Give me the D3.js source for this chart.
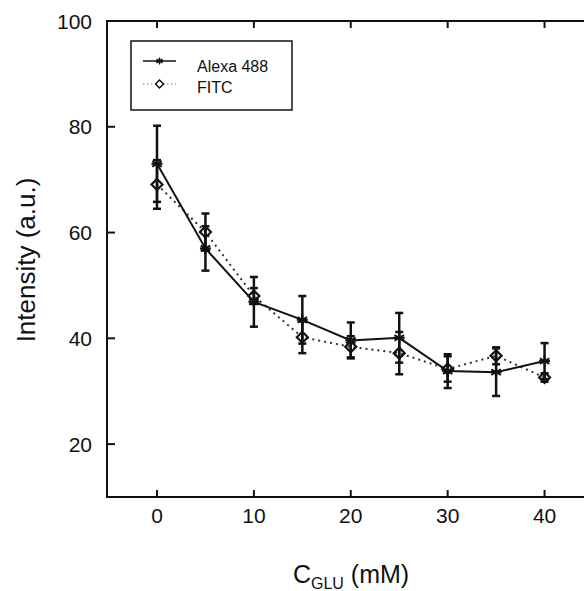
<!DOCTYPE html>
<html>
<head>
  <meta charset="utf-8">
  <script src="https://d3js.org/d3.v7.min.js"></script>
  <style>
    body { margin: 0; background: #fff; }
    text { font-family: "Liberation Sans", Arial, sans-serif; fill: #111; }
  </style>
</head>
<body>
<script>
  // Glucose concentration (mM) and measured intensities
  var conc      = [0, 5, 10, 15, 20, 25, 30, 35, 40];
  var alexa     = [73.0, 57.0, 46.9, 43.5, 39.6, 40.1, 33.8, 33.6, 35.7];
  var alexaErr  = [7.2, 4.2, 4.7, 4.5, 3.4, 4.7, 3.2, 4.5, 3.4];
  var fitc      = [69.1, 60.1, 48.0, 40.2, 38.4, 37.2, 34.2, 36.7, 32.6];
  var fitcErr   = [4.6, 3.5, 1.5, 3.0, 2.0, 4.0, 2.4, 1.6, 0.8];
  var xTicks    = [0, 10, 20, 30, 40];
  var yTicks    = [20, 40, 60, 80, 100];
  var seriesNames = ["Alexa 488", "FITC"];

  var W = 584, H = 591;
  var svg = d3.select("body").append("svg")
      .attr("width", W).attr("height", H);

  // plot box
  var plotLeft = 107, plotTop = 21, plotBottom = 497;
  var x = d3.scaleLinear().domain([-5.16, 45]).range([plotLeft, 593]);
  var y = d3.scaleLinear().domain([10, 100]).range([plotBottom, plotTop]);

  var g = svg.append("g");

  // frame: left, bottom, top (right side is cut off)
  g.append("path")
    .attr("d", "M" + W + "," + plotTop + "H" + plotLeft + "V" + plotBottom + "H" + W)
    .attr("fill", "none").attr("stroke", "#111").attr("stroke-width", 2);

  // ticks pointing inward
  xTicks.forEach(function(t) {
    g.append("line").attr("x1", x(t)).attr("x2", x(t))
      .attr("y1", plotBottom).attr("y2", plotBottom - 7)
      .attr("stroke", "#111").attr("stroke-width", 2);
    g.append("line").attr("x1", x(t)).attr("x2", x(t))
      .attr("y1", plotTop).attr("y2", plotTop + 7)
      .attr("stroke", "#111").attr("stroke-width", 2);
    g.append("text").attr("x", x(t)).attr("y", 523)
      .attr("text-anchor", "middle").style("font-size", "21px").text(t);
  });
  yTicks.forEach(function(t) {
    g.append("line").attr("x1", plotLeft).attr("x2", plotLeft + 8)
      .attr("y1", y(t)).attr("y2", y(t))
      .attr("stroke", "#111").attr("stroke-width", 2);
    g.append("text").attr("x", 92).attr("y", y(t) + 7.5)
      .attr("text-anchor", "end").style("font-size", "21px").text(t);
  });

  // axis titles
  svg.append("text")
    .attr("transform", "translate(35,260) rotate(-90)")
    .attr("text-anchor", "middle").style("font-size", "26px")
    .text("Intensity (a.u.)");

  var xt = svg.append("text").attr("x", 351).attr("y", 583)
    .attr("text-anchor", "middle").style("font-size", "25px");
  xt.append("tspan").text("C");
  xt.append("tspan").attr("dy", 6).style("font-size", "16px").text("GLU");
  xt.append("tspan").attr("dy", -6).text(" (mM)");

  var alexaData = conc.map(function(c, i) { return {c: c, v: alexa[i], e: alexaErr[i]}; });
  var fitcData  = conc.map(function(c, i) { return {c: c, v: fitc[i], e: fitcErr[i]}; });

  var line = d3.line().x(function(d) { return x(d.c); }).y(function(d) { return y(d.v); });

  function errorBars(data) {
    var eb = g.append("g").attr("stroke", "#111").attr("stroke-width", 2.5);
    data.forEach(function(d) {
      var cx = x(d.c), y1 = y(d.v + d.e), y2 = y(d.v - d.e);
      eb.append("line").attr("x1", cx).attr("x2", cx).attr("y1", y1).attr("y2", y2);
      eb.append("line").attr("x1", cx - 4).attr("x2", cx + 4).attr("y1", y1).attr("y2", y1);
      eb.append("line").attr("x1", cx - 4).attr("x2", cx + 4).attr("y1", y2).attr("y2", y2);
    });
  }

  function asterisk(sel, cx, cy, r, w) {
    var a = sel.append("g").attr("stroke", "#111").attr("stroke-width", w);
    [0, 60, 120].forEach(function(deg) {
      var rad = deg * Math.PI / 180;
      a.append("line")
        .attr("x1", cx - r * Math.sin(rad)).attr("y1", cy - r * Math.cos(rad))
        .attr("x2", cx + r * Math.sin(rad)).attr("y2", cy + r * Math.cos(rad));
    });
    a.append("line").attr("x1", cx - r).attr("x2", cx + r).attr("y1", cy).attr("y2", cy);
  }

  function diamond(sel, cx, cy, r, w) {
    sel.append("path")
      .attr("d", "M0," + (-r) + "L" + r + ",0L0," + r + "L" + (-r) + ",0Z")
      .attr("transform", "translate(" + cx + "," + cy + ")")
      .attr("fill", "none").attr("stroke", "#111").attr("stroke-width", w);
  }

  // FITC (dotted)
  errorBars(fitcData);
  g.append("path").datum(fitcData).attr("d", line)
    .attr("fill", "none").attr("stroke", "#333").attr("stroke-width", 2)
    .attr("stroke-dasharray", "2,4");

  // Alexa 488 (solid)
  errorBars(alexaData);
  g.append("path").datum(alexaData).attr("d", line)
    .attr("fill", "none").attr("stroke", "#111").attr("stroke-width", 2);

  fitcData.forEach(function(d) { diamond(g, x(d.c), y(d.v), 5.5, 2.2); });
  alexaData.forEach(function(d) { asterisk(g, x(d.c), y(d.v), 5.5, 2); });

  // legend
  var lg = svg.append("g");
  lg.append("rect").attr("x", 131).attr("y", 41).attr("width", 161).attr("height", 69)
    .attr("fill", "#fff").attr("stroke", "#111").attr("stroke-width", 1.5);
  lg.append("line").attr("x1", 143).attr("x2", 176).attr("y1", 61).attr("y2", 61)
    .attr("stroke", "#111").attr("stroke-width", 1.5);
  asterisk(lg, 159.5, 61, 3.5, 1.5);
  lg.append("line").attr("x1", 143).attr("x2", 176).attr("y1", 84).attr("y2", 84)
    .attr("stroke", "#777").attr("stroke-width", 1.2).attr("stroke-dasharray", "1.5,2.5");
  lg.append("rect").attr("x", 155).attr("y", 79.5).attr("width", 9).attr("height", 9)
    .attr("fill", "#fff");
  diamond(lg, 159.5, 84, 4, 1.5);
  seriesNames.forEach(function(n, i) {
    lg.append("text").attr("x", 197).attr("y", 72 + i * 21)
      .style("font-size", "16px").text(n);
  });
</script>
</body>
</html>
